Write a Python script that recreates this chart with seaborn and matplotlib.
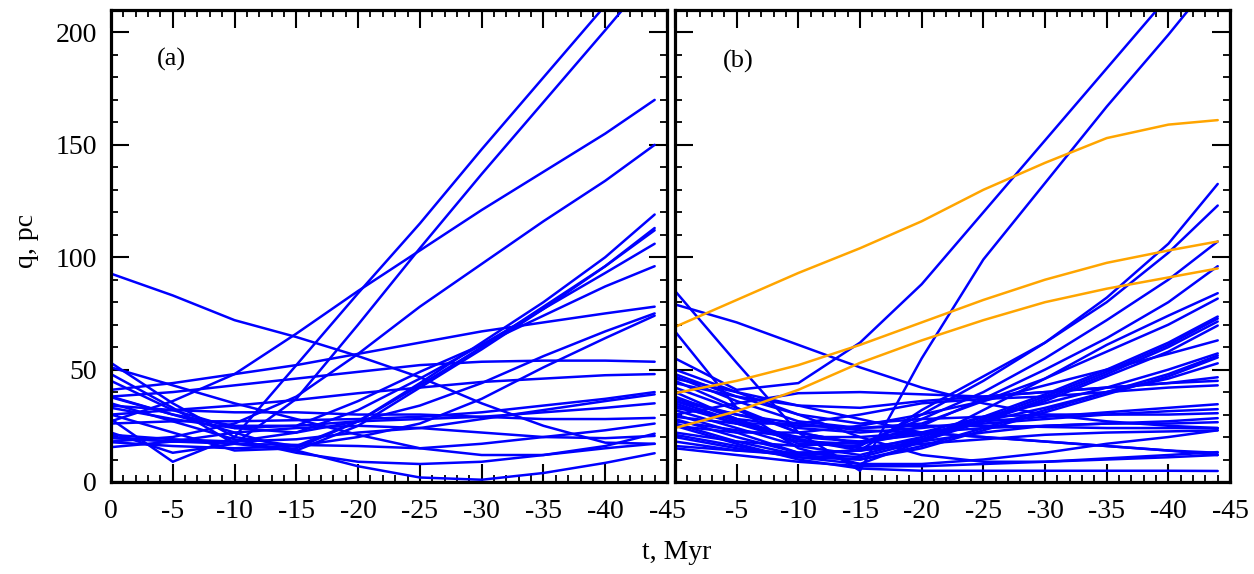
import matplotlib
matplotlib.use('Agg')
import matplotlib.pyplot as plt
import seaborn as sns
from matplotlib.ticker import MultipleLocator, FuncFormatter

sns.set_style('ticks')
plt.rcParams['font.family'] = ['Liberation Serif', 'DejaVu Serif']
plt.rcParams['axes.edgecolor'] = 'black'
plt.rcParams['xtick.color'] = 'black'
plt.rcParams['ytick.color'] = 'black'
plt.rcParams['text.color'] = 'black'

# time grid (Myr), values of q (pc) at these times
t = [0, -5, -10, -15, -20, -25, -30, -35, -40, -44]

# panel (a)
a_curves = [
    [92.7, 83, 72, 64.5, 56, 46.6, 35, 25, 17.5, 17],
    [27, 36, 48, 66, 85, 103, 121, 138, 155, 170],
    [18, 20, 26, 38, 57, 78, 97, 116, 134, 150],
    [28, 9, 20, 52, 84, 115, 148, 180, 212, 238],
    [22, 13, 17, 37, 70, 104, 137, 169, 201, 227],
    [53, 35, 20, 16, 27, 44, 62, 80, 100, 119],
    [48, 33, 17, 14, 25, 42, 59, 77, 96, 113],
    [30, 22, 14, 15, 27, 43, 60, 78, 96, 112],
    [20, 18, 18, 22, 32, 46, 61, 77, 93, 106],
    [45, 32, 24, 25, 36, 49, 61, 74, 87, 96],
    [41, 44, 48, 52, 57, 62, 67, 71, 75, 78],
    [33, 28, 24, 22, 27, 34, 44, 56, 67, 75],
    [17.7, 16, 15, 16, 20, 26, 37, 51, 64, 74],
    [38, 40, 43, 46, 49, 52, 53.5, 54, 54, 53.5],
    [30, 32, 34, 36.5, 39.5, 42, 44.5, 46, 47.5, 48],
    [26, 27, 27, 27.5, 28, 29, 31, 34, 37, 40],
    [21, 19, 18, 19, 22, 24, 28, 32, 36, 39],
    [37.7, 30, 25, 25, 27, 28, 29, 31, 33, 35],
    [34, 32, 31, 31, 30, 30, 29, 28, 28, 28.5],
    [19.5, 18, 17, 16.5, 16, 15, 17, 20, 23, 26],
    [51, 43, 35, 28, 21, 15, 12, 12, 16, 21.5],
    [15.5, 18, 22, 24, 25, 24, 22, 20, 19.5, 20.5],
    [38, 30, 22, 14, 7, 2, 1, 4, 8.5, 12.8],
    [35, 27, 19, 13, 9, 8, 9, 12, 15, 17],
]

# panel (b)
b_orange = [
    [69, 81, 93, 104, 116, 130, 142, 153, 159, 161],
    [39.5, 45, 52, 61, 71, 81, 90, 97.5, 103, 107],
    [24, 31.5, 41, 53, 63, 72, 80, 86, 91, 95],
]

b_curves = [
    [55, 41, 44, 62, 88, 120, 152, 184, 216, 242],
    [85, 53, 22, 5, 55, 99, 133, 167, 199, 226],
    [79, 71, 61, 51, 42, 35, 30, 27, 25, 24],
    [67, 33, 15, 8, 18, 32, 46, 61, 74, 84],
    [30, 22, 13, 14, 32, 47, 62, 82, 106, 132.6],
    [40, 28, 17, 16, 30, 45, 62, 80, 102, 123],
    [35, 26, 18, 17, 28, 40, 55, 72, 90, 107],
    [45, 33, 22, 17, 25, 37, 50, 64, 80, 96],
    [47, 36, 27, 24, 26, 36, 46, 58, 70, 81.6],
    [38, 28, 19, 14, 20, 29, 39, 50, 62, 73.6],
    [32, 24, 16, 12, 19, 28, 38, 49, 61, 72.7],
    [28, 20, 13, 11, 18, 27, 37, 48, 60, 71.4],
    [36, 27, 19, 15, 19, 27, 36, 47, 58, 69.6],
    [25, 22, 22, 25, 30, 36, 43, 50, 57, 63],
    [42, 32, 22, 17, 22, 29, 35, 42, 50, 57.2],
    [26, 18, 12, 10, 16, 24, 32, 40, 48, 56.3],
    [20, 15, 11, 10, 15, 23, 31, 39, 47, 55.4],
    [34, 26, 20, 18, 21, 27, 33, 40, 46, 52.8],
    [30, 35, 39.5, 40, 39, 38, 40, 42, 44, 45],
    [44, 38, 34, 33, 36, 38, 40, 42, 44, 46.6],
    [29, 26, 26, 30, 35, 37, 38, 40, 42, 43],
    [37, 30, 24, 22, 24, 27, 29, 31, 33, 34.6],
    [22, 18, 16, 18, 22, 26, 28, 30, 31.5, 32.4],
    [48, 38, 30, 26, 28, 29, 30, 30, 30, 30.6],
    [18, 14, 12, 14, 18, 22, 25, 26, 27, 28.4],
    [27, 23, 20, 20, 22, 24, 25, 26, 26, 26.6],
    [33, 28, 25, 24, 25, 25, 24.5, 24, 24, 24],
    [16, 14, 13, 14, 17, 19, 21, 22, 22.5, 23],
    [46, 40, 34, 28, 22, 20, 18, 16, 14, 12],
    [15, 12, 9, 7, 7, 8, 9, 10.5, 12, 13.3],
    [25, 17, 10, 6, 5, 5, 5, 5, 5, 4.9],
    [50, 40, 30, 20, 12, 9, 9, 10, 11, 12],
    [36, 30, 26, 23, 22, 20, 18, 16, 14, 13],
    [21, 16, 11, 8, 8, 10, 13, 17, 20, 23],
]

BLUE = '#0000ff'
ORANGE = '#ffa500'

fig = plt.figure(figsize=(12.54, 5.74), dpi=100)
ax_a = fig.add_axes([0.0885, 0.1603, 0.4434, 0.8223])
ax_b = fig.add_axes([0.5383, 0.1603, 0.4426, 0.8223])


def draw(ax, curves, color):
    for q in curves:
        sns.lineplot(x=t, y=q, ax=ax, color=color, lw=1.8, sort=False, estimator=None)


draw(ax_a, a_curves, BLUE)
draw(ax_b, b_curves, BLUE)
draw(ax_b, b_orange, ORANGE)

fmt_a = FuncFormatter(lambda v, p: f'{int(round(v))}')
fmt_b = FuncFormatter(lambda v, p: '' if round(v) == 0 else f'{int(round(v))}')

for ax in (ax_a, ax_b):
    ax.set_xlim(0, -45)
    ax.set_ylim(0, 210)
    ax.xaxis.set_major_locator(MultipleLocator(5))
    ax.xaxis.set_minor_locator(MultipleLocator(1))
    ax.yaxis.set_major_locator(MultipleLocator(50))
    ax.yaxis.set_minor_locator(MultipleLocator(10))
    ax.tick_params(which='both', direction='in', top=True, right=True, labelsize=20)
    ax.tick_params(which='major', length=13, width=1.5)
    ax.tick_params(which='minor', length=5, width=1.3)
    ax.tick_params(axis='x', pad=12)
    ax.tick_params(axis='y', pad=10)
    for s in ax.spines.values():
        s.set_linewidth(2.3)
    ax.set_xlabel('')
    ax.set_ylabel('')

ax_a.xaxis.set_major_formatter(fmt_a)
ax_b.xaxis.set_major_formatter(fmt_b)
ax_b.tick_params(labelleft=False)

ax_a.text(-4.9, 188, '(a)', ha='center', va='center', fontsize=19)
ax_b.text(-5.1, 187, '(b)', ha='center', va='center', fontsize=19)

fig.text(0.021, 0.58, 'q, pc', rotation=90, ha='center', va='center', fontsize=20)
fig.text(0.54, 0.037, 't, Myr', ha='center', va='center', fontsize=20)

fig.savefig('out.png', dpi=100)
